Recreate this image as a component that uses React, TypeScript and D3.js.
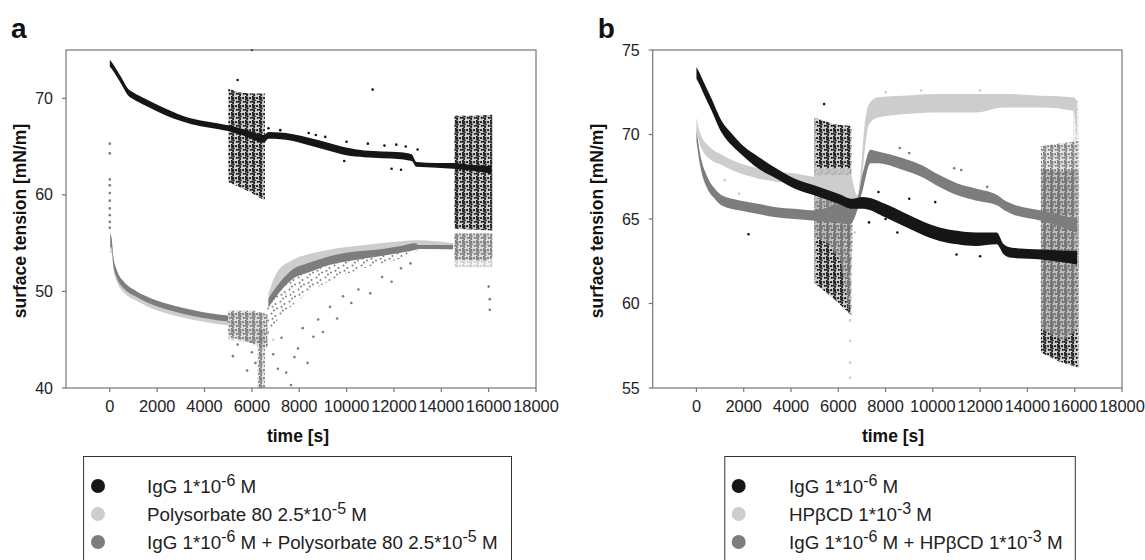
import React from 'react';
import * as d3 from 'd3';

type Row = [number, number, number];
type Pt = [number, number];

// ---------- shared axis data ----------
const xTicks = [0, 2000, 4000, 6000, 8000, 10000, 12000, 14000, 16000, 18000];
const xDomain: [number, number] = [-1850, 18000];
const yTicksA = [40, 50, 60, 70];
const yTicksB = [55, 60, 65, 70, 75];
const yDomainA: [number, number] = [40, 75];
const yDomainB: [number, number] = [55, 75];

// ---------- panel a: IgG ----------
const aIgGBand: Row[] = [
  [0, 73.3, 74.0], [150, 72.8, 73.5], [300, 72.2, 72.9], [500, 71.4, 72.1], [770, 70.3, 71.0],
  [1000, 69.9, 70.6], [1540, 69.2, 69.9], [2300, 68.3, 69.0], [3070, 67.6, 68.2], [3840, 67.1, 67.7],
  [4600, 66.8, 67.4], [5000, 66.6, 67.2], [5800, 66.0, 66.7], [6500, 65.4, 66.2], [6700, 65.8, 66.5],
  [7680, 65.6, 66.3], [8450, 65.1, 65.9], [9220, 64.6, 65.4], [9980, 64.1, 64.9], [10750, 63.9, 64.6],
  [11520, 63.8, 64.5], [12290, 63.7, 64.4], [12750, 63.5, 64.2], [12950, 62.9, 63.4], [13800, 62.8, 63.3],
  [14500, 62.7, 63.3], [15300, 62.5, 63.1], [16100, 62.2, 63.0],
];
const aIgGOsc1: Row[] = [[5000, 61.3, 71.0], [5500, 60.8, 70.6], [6000, 60.2, 70.5], [6550, 59.4, 70.5]];
const aIgGOsc2: Row[] = [[14550, 56.5, 68.2], [15300, 56.4, 68.2], [16150, 56.3, 68.3]];
const aIgGPts: Pt[] = [
  [6000, 75.0], [5400, 71.9], [11100, 70.9], [6700, 66.9], [7200, 66.7], [8400, 66.4], [8700, 66.2],
  [9100, 66.0], [10000, 65.5], [10900, 65.3], [11600, 65.1], [12100, 65.2], [12500, 65.0], [12300, 62.6],
  [11900, 62.7], [9900, 63.5], [13000, 64.7],
];

// ---------- panel a: Polysorbate 80 ----------
const aPsBand: Row[] = [
  [20, 54.0, 56.2], [77, 54.0, 55.3], [150, 52.3, 53.3], [300, 51.0, 51.9], [600, 49.9, 50.7],
  [1075, 49.1, 49.8], [1540, 48.5, 49.2], [2300, 47.8, 48.5], [3070, 47.3, 48.0], [3840, 46.9, 47.6],
  [4600, 46.6, 47.3], [5000, 46.5, 47.2],
];
const aPsRecBand: Row[] = [
  [6700, 48.5, 49.8], [7070, 50.0, 52.0], [7680, 51.8, 53.2], [8450, 52.6, 53.9], [9220, 53.2, 54.3],
  [9980, 53.5, 54.6], [10750, 53.8, 54.8], [12290, 54.3, 55.2], [13000, 54.4, 55.3], [14500, 54.3, 55.0],
];
const aPsOsc1: Row[] = [[5000, 45.0, 47.8], [6600, 44.5, 47.8]];
const aPsOsc2: Row[] = [[14550, 52.5, 55.8], [16150, 52.5, 55.8]];
const aPsPts: Pt[] = [[7500, 52.8], [8100, 53.4], [8700, 53.7], [6900, 45.0], [7400, 49.8], [0, 64.3], [0, 61.0]];

// ---------- panel a: IgG + Polysorbate 80 ----------
const aMixBand: Row[] = [
  [20, 54.6, 56.0], [77, 54.5, 55.5], [150, 52.7, 53.6], [300, 51.4, 52.2], [600, 50.3, 51.0],
  [1075, 49.5, 50.1], [1540, 48.9, 49.5], [2300, 48.2, 48.8], [3070, 47.7, 48.3], [3840, 47.3, 47.9],
  [4600, 47.0, 47.6], [5000, 46.9, 47.5],
];
const aMixRecBand: Row[] = [
  [6700, 48.3, 49.3], [7070, 49.6, 50.6], [7680, 51.2, 52.2], [8450, 52.0, 53.0], [9220, 52.7, 53.6],
  [9980, 53.1, 54.0], [10750, 53.4, 54.2], [11520, 53.7, 54.4], [12290, 54.0, 54.7], [12900, 54.3, 55.0],
  [13060, 54.4, 54.8], [14500, 54.4, 54.8],
];
const aMixOsc1: Row[] = [[5000, 45.3, 48.0], [5600, 45.0, 48.0], [6100, 44.5, 48.0], [6650, 44.2, 47.6]];
const aMixOsc2: Row[] = [[6250, 40.0, 46.0], [6550, 40.0, 46.0]];
const aMixOsc3: Row[] = [[14550, 53.3, 56.0], [15900, 53.2, 56.0], [16150, 53.5, 56.0]];
const aMixCloud: Row[] = [
  [6650, 44.0, 48.2], [6760, 45.5, 49.8], [7070, 47.0, 51.8], [7680, 48.5, 52.9], [8450, 50.0, 53.6],
  [9220, 51.0, 54.1], [9980, 51.8, 54.4], [10750, 52.4, 54.6], [12290, 53.4, 55.1], [13000, 54.1, 55.3],
];
const aMixPts: Pt[] = [
  [0, 65.3], [0, 64.3], [0, 61.6], [0, 61.0], [0, 60.2], [0, 59.4], [0, 58.6], [0, 57.9], [0, 57.2], [0, 56.6],
  [5200, 43.3], [5400, 44.5], [5800, 41.8], [6000, 43.7], [6150, 42.6], [5950, 44.8],
  [6900, 43.5], [7100, 42.0], [7250, 45.2], [7450, 41.6], [7650, 40.3], [7800, 43.2], [7950, 44.1],
  [8150, 46.2], [8350, 42.6], [8600, 45.3], [8800, 47.1], [9000, 45.8], [9300, 48.4], [9600, 47.2],
  [9850, 49.5], [10200, 48.8], [10500, 50.2], [11000, 49.8], [11500, 51.5], [11900, 51.0], [12300, 52.4],
  [12700, 52.9], [16050, 49.2], [16050, 48.1], [16000, 50.5],
];

// ---------- panel b: IgG ----------
const bIgGBand: Row[] = [
  [0, 73.3, 74.0], [150, 72.9, 73.6], [307, 72.4, 73.1], [613, 71.5, 72.2], [1070, 70.1, 70.8],
  [1530, 69.3, 70.0], [2000, 68.7, 69.3], [2600, 68.0, 68.7], [3370, 67.4, 68.0], [4140, 66.8, 67.4],
  [4980, 66.4, 67.0], [6000, 65.9, 66.5], [6600, 65.6, 66.2], [7050, 65.6, 66.3], [7980, 65.1, 65.9],
  [8740, 64.6, 65.4], [9510, 64.1, 64.9], [10280, 63.7, 64.5], [11040, 63.5, 64.3], [11810, 63.4, 64.2],
  [12700, 63.5, 64.2], [13000, 62.9, 63.5], [13340, 62.7, 63.3], [14570, 62.6, 63.2], [16100, 62.3, 63.1],
];
const bIgGOsc1: Row[] = [[5000, 61.2, 71.0], [5800, 60.3, 70.6], [6550, 59.3, 70.5]];
const bIgGOsc2: Row[] = [[14570, 57.1, 68.0], [15300, 56.6, 67.8], [16150, 56.2, 67.9]];
const bIgGPts: Pt[] = [
  [5400, 71.8], [2200, 64.1], [7300, 64.8], [8000, 65.0], [8500, 64.2], [9000, 66.2], [10100, 66.0],
  [11000, 62.9], [12000, 62.8], [7700, 66.6],
];

// ---------- panel b: HPβCD ----------
const bHpBand: Row[] = [
  [0, 70.3, 71.0], [150, 69.4, 70.1], [613, 68.5, 69.2], [1070, 68.2, 68.8], [1840, 67.7, 68.3],
  [2600, 67.4, 68.0], [3370, 67.2, 67.8], [4140, 67.1, 67.7], [5000, 66.9, 67.5], [5500, 66.4, 67.6],
  [6500, 66.1, 67.6], [6800, 65.5, 66.4], [6950, 66.5, 67.8], [7100, 68.8, 70.4], [7300, 70.6, 71.8],
  [7670, 71.0, 72.2], [8740, 71.2, 72.3], [10280, 71.3, 72.4], [11810, 71.3, 72.4], [13000, 71.6, 72.4],
  [14570, 71.6, 72.3], [15950, 71.4, 72.2], [16100, 69.5, 72.0],
];
const bHpOsc1: Row[] = [[5000, 65.8, 68.0], [6500, 65.6, 68.0]];
const bHpOsc2: Row[] = [[15950, 62.0, 72.0], [16150, 62.0, 72.0]];
const bHpPts: Pt[] = [
  [6500, 63.0], [6500, 61.6], [6500, 60.3], [6500, 59.0], [6500, 57.8], [6500, 56.5], [6500, 55.6],
  [6700, 64.2], [6300, 63.5], [1200, 67.3], [1800, 66.5], [8000, 72.5], [9500, 72.6], [12000, 72.6],
];

// ---------- panel b: IgG + HPβCD ----------
const bMixBand: Row[] = [
  [0, 69.6, 70.3], [150, 68.2, 68.9], [460, 66.8, 67.5], [770, 66.2, 66.8], [1070, 65.8, 66.4],
  [1840, 65.5, 66.1], [2600, 65.3, 65.9], [3370, 65.1, 65.7], [4140, 65.0, 65.6], [5000, 64.9, 65.5],
  [5800, 64.8, 65.8], [6500, 64.7, 66.0], [6750, 65.3, 66.0], [7050, 66.8, 67.8], [7360, 68.3, 69.1],
  [7670, 68.3, 69.0], [8740, 67.9, 68.6], [9510, 67.5, 68.2], [10280, 66.9, 67.6], [11040, 66.4, 67.1],
  [11810, 66.1, 66.8], [12730, 65.8, 66.4], [13040, 65.5, 66.1], [13340, 65.3, 65.9], [14570, 64.9, 65.5],
  [16100, 64.2, 65.0],
];
const bMixOsc1: Row[] = [[5000, 64.0, 66.2], [5600, 63.5, 66.3], [6100, 62.5, 66.3], [6450, 59.5, 66.2], [6600, 63.5, 66.0]];
const bMixOsc2: Row[] = [[14570, 58.5, 69.3], [15500, 57.8, 69.5], [16150, 58.5, 69.6]];
const bMixPts: Pt[] = [[10900, 68.0], [11200, 67.9], [9000, 68.9], [12300, 66.9], [8600, 69.2]];

// ---------- legend text ----------
const legendA: string[][] = [
  ['IgG 1*10', '-6', ' M'],
  ['Polysorbate 80 2.5*10', '-5', ' M'],
  ['IgG 1*10', '-6', ' M + Polysorbate 80 2.5*10', '-5', ' M'],
];
const legendB: string[][] = [
  ['IgG 1*10', '-6', ' M'],
  ['HPβCD 1*10', '-3', ' M'],
  ['IgG 1*10', '-6', ' M + HPβCD 1*10', '-3', ' M'],
];

const COLORS = { igg: '#161616', light: '#cdcdcd', mix: '#7d7d7d' };
const FONT = '"Liberation Sans", Arial, Helvetica, sans-serif';

type Series = {
  key: string;
  color: string;
  bands: Row[][];
  osc: Row[][];
  clouds: Row[][];
  pts: Pt[];
};

const seriesA: Series[] = [
  { key: 'aigg', color: COLORS.igg, bands: [aIgGBand], osc: [aIgGOsc1, aIgGOsc2], clouds: [], pts: aIgGPts },
  { key: 'aps', color: COLORS.light, bands: [aPsBand, aPsRecBand], osc: [aPsOsc1, aPsOsc2], clouds: [], pts: aPsPts },
  { key: 'amix', color: COLORS.mix, bands: [aMixBand, aMixRecBand], osc: [aMixOsc1, aMixOsc2, aMixOsc3], clouds: [aMixCloud], pts: aMixPts },
];
const seriesB: Series[] = [
  { key: 'bhp', color: COLORS.light, bands: [bHpBand], osc: [bHpOsc1, bHpOsc2], clouds: [], pts: bHpPts },
  { key: 'bmix', color: COLORS.mix, bands: [bMixBand], osc: [bMixOsc1, bMixOsc2], clouds: [], pts: bMixPts },
  { key: 'bigg', color: COLORS.igg, bands: [bIgGBand], osc: [bIgGOsc1, bIgGOsc2], clouds: [], pts: bIgGPts },
];
const oscOrderA = ['aigg', 'aps', 'amix'];
const oscOrderB = ['bigg', 'bhp', 'bmix'];
const legendColors = [COLORS.igg, COLORS.light, COLORS.mix];

// texture tiles for the oscillation zones (style only): vertical streaks of dots
const denseDots: [number, number][] = [
  [0.8, 0.8], [2.3, 1.9], [1.1, 3.2], [2.6, 4.4], [0.7, 5.6], [2.1, 6.9], [5.1, 2.2], [5.8, 5.8],
];
const sparseDots: [number, number][] = [[1.5, 1.5], [5.5, 4.0], [2.5, 6.8], [7.0, 8.5], [4.0, 10.5]];

type PanelProps = {
  id: string;
  letter: string;
  left: number;
  right: number;
  yDomain: [number, number];
  yTicks: number[];
  series: Series[];
  oscOrder: string[];
  legend: string[][];
  legendBox: [number, number];
  markerX: number;
  textX: number;
  yTitleX: number;
  xTitleX: number;
};

function Panel(p: PanelProps) {
  const top = 50;
  const bottom = 388;
  const x = d3.scaleLinear().domain(xDomain).range([p.left, p.right]);
  const y = d3.scaleLinear().domain(p.yDomain).range([bottom, top]);
  const area = d3
    .area<Row>()
    .x((d) => x(d[0]))
    .y0((d) => y(d[1]))
    .y1((d) => y(d[2]))
    .curve(d3.curveMonotoneX);
  const polyArea = d3
    .area<Row>()
    .x((d) => x(d[0]))
    .y0((d) => y(d[1]))
    .y1((d) => y(d[2]))
    .curve(d3.curveLinear);
  const clipId = `clip-${p.id}`;
  const rowsY = [486, 514, 542];
  const oscSeries = p.oscOrder.map((k) => p.series.find((s) => s.key === k) as Series);

  return (
    <g>
      <defs>
        <clipPath id={clipId}>
          <rect x={p.left} y={top - 1} width={p.right - p.left} height={bottom - top + 1} />
        </clipPath>
        {p.series.map((s) => (
          <React.Fragment key={s.key}>
            <pattern id={`dense-${s.key}`} width={7} height={8} patternUnits="userSpaceOnUse">
              {denseDots.map((d, i) => (
                <circle key={i} cx={d[0]} cy={d[1]} r={1.1} fill={s.color} />
              ))}
            </pattern>
            <pattern id={`sparse-${s.key}`} width={9} height={12} patternUnits="userSpaceOnUse">
              {sparseDots.map((d, i) => (
                <circle key={i} cx={d[0]} cy={d[1]} r={1.0} fill={s.color} />
              ))}
            </pattern>
          </React.Fragment>
        ))}
      </defs>

      {/* panel letter */}
      <text x={p.left - 55} y={38} fontFamily={FONT} fontWeight="bold" fontSize={28} fill="#111">
        {p.letter}
      </text>

      {/* data */}
      <g clipPath={`url(#${clipId})`}>
        {oscSeries.map((s) => (
          <g key={`o-${s.key}`}>
            {s.clouds.map((c, i) => (
              <path key={`c${i}`} d={area(c) || ''} fill={`url(#sparse-${s.key})`} />
            ))}
            {s.osc.map((c, i) => (
              <g key={`o${i}`}>
                <path d={polyArea(c) || ''} fill={s.color} fillOpacity={0.2} />
                <path d={polyArea(c) || ''} fill={`url(#dense-${s.key})`} />
              </g>
            ))}
          </g>
        ))}
        {p.series.map((s) => (
          <g key={`b-${s.key}`}>
            {s.bands.map((b, i) => (
              <path key={i} d={area(b) || ''} fill={s.color} />
            ))}
            {s.pts.map((d, i) => (
              <circle key={i} cx={x(d[0])} cy={y(d[1])} r={1.3} fill={s.color} />
            ))}
          </g>
        ))}
      </g>

      {/* frame */}
      <rect x={p.left} y={top} width={p.right - p.left} height={bottom - top} fill="none" stroke="#767676" strokeWidth={1.2} />

      {/* y ticks */}
      {p.yTicks.map((t) => (
        <g key={`y${t}`}>
          <line x1={p.left - 4} x2={p.left} y1={y(t)} y2={y(t)} stroke="#767676" strokeWidth={1.2} />
          <text x={p.left - 13} y={y(t) + 5.5} textAnchor="end" fontFamily={FONT} fontSize={16} fill="#222">
            {t}
          </text>
        </g>
      ))}

      {/* x ticks */}
      {xTicks.map((t) => (
        <g key={`x${t}`}>
          <line x1={x(t)} x2={x(t)} y1={bottom} y2={bottom + 4} stroke="#767676" strokeWidth={1.2} />
          <text x={x(t)} y={412} textAnchor="middle" fontFamily={FONT} fontSize={16.4} fill="#222">
            {t}
          </text>
        </g>
      ))}

      {/* axis titles */}
      <text x={p.xTitleX} y={442} textAnchor="middle" fontFamily={FONT} fontWeight="bold" fontSize={17.5} fill="#111">
        time [s]
      </text>
      <text
        transform={`translate(${p.yTitleX},${(top + bottom) / 2 + 2}) rotate(-90)`}
        textAnchor="middle"
        fontFamily={FONT}
        fontWeight="bold"
        fontSize={17.5}
        fill="#111"
      >
        surface tension [mN/m]
      </text>

      {/* legend */}
      <rect
        x={p.legendBox[0]}
        y={456.5}
        width={p.legendBox[1] - p.legendBox[0]}
        height={120}
        fill="none"
        stroke="#333"
        strokeWidth={1}
      />
      {p.legend.map((parts, i) => (
        <g key={`l${i}`}>
          <circle cx={p.markerX} cy={rowsY[i]} r={7} fill={legendColors[i]} />
          <text x={p.textX} y={rowsY[i] + 6.5} fontFamily={FONT} fontSize={18.8} fill="#222">
            {parts.map((s, j) =>
              j % 2 === 1 ? (
                <tspan key={j} dy={-7} fontSize={16}>
                  {s}
                </tspan>
              ) : (
                <tspan key={j} dy={j === 0 ? 0 : 7}>
                  {s}
                </tspan>
              )
            )}
          </text>
        </g>
      ))}
    </g>
  );
}

export default function App() {
  return (
    <svg
      width={1145}
      height={560}
      style={{ position: 'absolute', left: 0, top: 0, background: '#fff' }}
      xmlns="http://www.w3.org/2000/svg"
    >
      <rect x={0} y={0} width={1145} height={560} fill="#fff" />
      <Panel
        id="a"
        letter="a"
        left={66}
        right={536}
        yDomain={yDomainA}
        yTicks={yTicksA}
        series={seriesA}
        oscOrder={oscOrderA}
        legend={legendA}
        legendBox={[83.6, 511.5]}
        markerX={98}
        textX={147}
        yTitleX={26}
        xTitleX={298}
      />
      <Panel
        id="b"
        letter="b"
        left={652.7}
        right={1122}
        yDomain={yDomainB}
        yTicks={yTicksB}
        series={seriesB}
        oscOrder={oscOrderB}
        legend={legendB}
        legendBox={[724.8, 1075.3]}
        markerX={738.7}
        textX={789}
        yTitleX={603}
        xTitleX={893}
      />
    </svg>
  );
}
